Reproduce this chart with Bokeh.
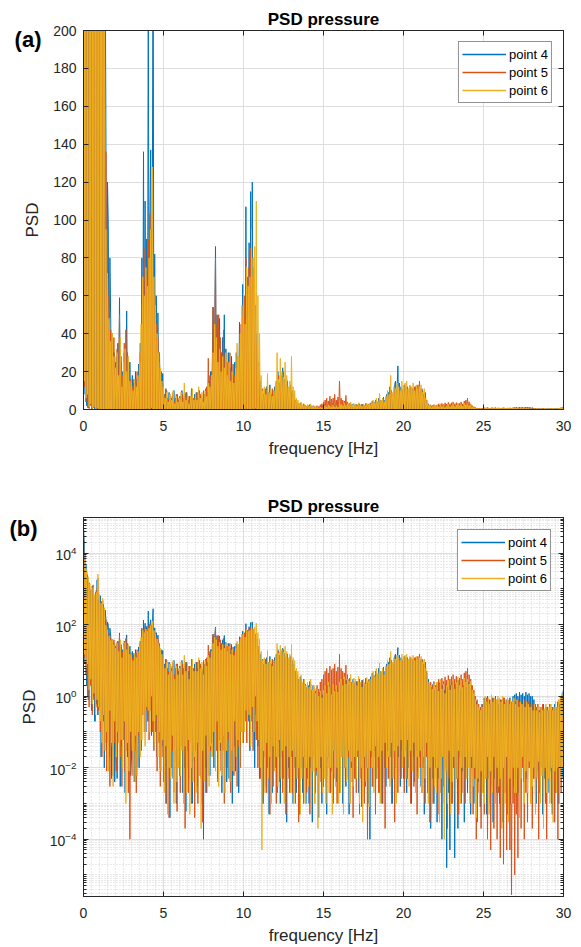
from bokeh.plotting import figure
from bokeh.layouts import column
from bokeh.models import (ColumnDataSource, Legend, LegendItem, LinearAxis, LogAxis,
                          FixedTicker, Range1d, BasicTickFormatter)
from bokeh.embed import file_html
from bokeh.resources import INLINE

# ---------------- data: PSD per 1-Hz block, 20 samples per Hz (0.05 Hz step) ----------------
series_names = ["point 4", "point 5", "point 6"]
series_colors = ["#0072BD", "#D95319", "#EDB120"]
x_ticks = [0, 5, 10, 15, 20, 25, 30]
y_ticks_lin = [0, 20, 40, 60, 80, 100, 120, 140, 160, 180, 200]
y_ticks_log = [1e-4, 1e-2, 1e0, 1e2, 1e4]

point4_rows = [
    [50000, 20000, 8, 5000, 2, 2500, 0.8, 1500, 3, 900, 0.4, 1200, 1, 600, 0.2, 800, 0.6, 1800, 0.3, 500],
    [0.5, 650, 0.02, 450, 0.3, 380, 0.01, 260, 150, 0.05, 120, 97, 0.02, 80, 48, 0.005, 40, 0.03, 30, 0.004],
    [0.05, 28, 0.005, 35, 0.1, 59, 0.003, 25, 0.04, 20, 0.2, 30, 0.002, 22, 52, 0.02, 18, 0.08, 25, 0.006],
    [0.02, 18, 0.1, 14, 0.004, 20, 0.05, 16, 0.01, 24, 0.1, 35, 0.03, 80, 0.3, 136, 0.5, 110, 0.1, 90],
    [0.8, 240, 0.2, 100, 137, 0.08, 90, 280, 0.5, 82, 0.1, 60, 0.02, 51, 0.1, 30, 0.01, 20, 0.04, 19],
    [0.004, 8, 0.03, 11, 0.001, 6, 0.06, 9, 0.0004, 5, 0.01, 7, 0.005, 10, 0.04, 6, 0.001, 8, 0.02, 5],
    [0.006, 7, 0.04, 10, 0.002, 6, 0.01, 8, 0.0006, 9, 0.03, 5, 0.005, 7, 0.08, 11, 0.001, 6, 0.015, 8],
    [0.03, 9, 0.003, 6, 0.05, 10, 0.006, 7, 0.001, 5, 0.0001, 8, 0.01, 11, 0.002, 9, 0.04, 15, 0.006, 20],
    [0.05, 25, 54, 0.01, 40, 86, 0.08, 50, 0.005, 35, 48, 0.03, 30, 0.002, 38, 0.1, 50, 0.01, 32, 0.004],
    [0.06, 30, 0.005, 22, 0.03, 28, 0.001, 18, 0.04, 25, 0.008, 30, 0.07, 20, 0.002, 46, 0.03, 35, 0.2, 66],
    [0.05, 50, 0.4, 107, 0.08, 70, 0.2, 88, 0.03, 115, 0.5, 120, 0.1, 75, 0.01, 55, 0.3, 40, 0.04, 20],
    [0.005, 15, 0.02, 10, 0.001, 8, 0.05, 11, 0.003, 12, 0.01, 9, 0.0005, 13, 0.03, 8, 0.002, 10, 0.06, 12],
    [0.01, 15, 0.002, 20, 0.05, 14, 0.001, 18, 0.02, 22, 0.005, 16, 0.04, 12, 0.0003, 15, 0.01, 10, 0.002, 13],
    [0.02, 10, 0.001, 8, 0.01, 5, 0.002, 4, 0.03, 3, 0.0005, 3.5, 0.01, 2, 0.002, 3, 0.02, 2.2, 0.001, 1.8],
    [0.005, 2, 0.001, 2.6, 0.01, 1.5, 0.0003, 2, 0.02, 1.2, 0.002, 1.6, 0.006, 1, 0.0004, 1.3, 0.01, 0.9, 0.001, 1.1],
    [0.003, 1.6, 0.01, 1.2, 0.0005, 2, 0.02, 1.4, 0.002, 1.8, 0.008, 1, 0.001, 2.2, 0.03, 1.5, 0.004, 1.9, 0.01, 1.2],
    [0.002, 2.4, 0.02, 2, 0.001, 3, 0.01, 2.2, 0.003, 2.8, 0.03, 2, 0.0005, 3.2, 0.01, 2.5, 0.004, 3, 0.02, 2.4],
    [0.005, 2.6, 0.03, 2, 0.002, 3, 0.01, 2.2, 0.0008, 2.8, 0.02, 2, 0.003, 3.2, 0.01, 2.4, 0.001, 3, 0.0001, 3.5],
    [0.02, 4.5, 0.003, 3.8, 0.03, 5, 0.005, 4, 0.01, 6, 0.002, 5, 0.04, 4.5, 0.001, 6.5, 0.01, 5, 0.003, 8],
    [0.03, 9, 0.005, 12, 0.02, 10, 0.001, 8, 0.04, 13, 15, 0.01, 11, 23, 0.02, 14, 0.003, 12, 0.03, 10],
    [0.005, 13, 0.03, 11, 0.002, 12, 0.01, 10, 0.05, 12, 0.001, 11, 0.02, 9, 0.004, 12, 0.03, 10, 0.008, 11],
    [0.02, 10, 0.003, 11, 0.01, 8, 0.0005, 9, 0.03, 5, 0.002, 3, 0.01, 2, 0.0002, 1.8, 0.005, 2.2, 0.001, 1.5],
    [0.01, 2, 0.0003, 1.6, 0.005, 2.4, 0.02, 1.3, 0.0001, 2, 0.003, 1.5, 0.01, 2.2, 0.000016, 1.8, 0.002, 1.2, 0.00005, 2],
    [0.001, 2.5, 0.01, 1.6, 0.00003, 2.2, 0.005, 1.8, 0.0002, 2.8, 0.02, 1.5, 0.001, 2.4, 0.008, 2, 0.0003, 2.6, 0.01, 1.8],
    [0.002, 2.5, 0.02, 1.8, 0.0005, 2, 0.01, 1.2, 0.001, 1, 0.005, 0.7, 0.0003, 0.5, 0.004, 0.4, 0.0008, 0.5, 0.006, 0.6],
    [0.002, 0.9, 0.01, 0.7, 0.0005, 1, 0.005, 0.8, 0.001, 0.6, 0.02, 0.9, 0.0003, 0.7, 0.005, 1, 0.002, 0.8, 0.01, 0.6],
    [0.001, 0.8, 0.006, 0.6, 0.0003, 0.9, 0.01, 0.7, 0.002, 0.8, 0.0005, 0.6, 0.008, 0.9, 0.001, 0.7, 0.01, 1, 0.003, 1.1],
    [0.005, 1.2, 0.02, 1, 0.002, 1.3, 0.01, 1.1, 0.03, 1.2, 0.004, 1, 0.02, 1.3, 0.005, 1.1, 0.03, 1.2, 0.01, 1],
    [0.02, 1, 0.005, 0.8, 0.01, 0.6, 0.001, 0.5, 0.008, 0.4, 0.002, 0.5, 0.01, 0.4, 0.0005, 0.6, 0.005, 0.4, 0.001, 0.5],
    [0.01, 0.4, 0.002, 0.6, 0.008, 0.4, 0.0005, 0.5, 0.01, 0.6, 0.002, 0.5, 0.015, 0.7, 0.001, 0.6, 0.01, 0.9, 0.005, 1.2],
]
point4_end = 1.5

point5_rows = [
    [70000, 12, 10000, 4, 3000, 1, 1800, 0.5, 1000, 2, 700, 0.3, 1300, 0.8, 600, 0.2, 900, 0.5, 2000, 0.4],
    [500, 0.1, 420, 0.02, 480, 0.2, 280, 0.05, 136, 0.008, 90, 0.1, 60, 0.003, 42, 0.04, 35, 0.006, 38, 0.05],
    [25, 0.008, 32, 0.05, 20, 50, 0.02, 28, 0.003, 18, 0.06, 35, 0.008, 42, 0.03, 30, 0.002, 22, 0.0001, 16],
    [0.05, 12, 0.006, 16, 0.03, 13, 0.002, 20, 0.08, 15, 0.01, 30, 0.05, 55, 0.3, 75, 0.1, 85, 0.4, 70],
    [0.2, 90, 0.06, 103, 0.4, 95, 0.1, 75, 0.03, 60, 0.2, 45, 0.008, 38, 0.05, 25, 0.003, 18, 0.02, 12],
    [9, 0.01, 7, 0.001, 10, 0.04, 5, 0.0004, 8, 0.006, 6, 0.03, 9, 0.002, 4, 0.05, 8, 0.0006, 6, 0.01],
    [7, 0.002, 5, 0.04, 8, 0.006, 6, 0.0002, 9, 0.01, 4, 0.002, 7, 0.05, 5, 0.001, 8, 0.03, 6, 0.0004],
    [6, 0.03, 9, 0.001, 5, 0.04, 8, 0.005, 6, 0.0003, 10, 0.01, 7, 0.002, 12, 0.08, 27, 0.006, 18, 0.03],
    [20, 0.02, 54, 0.1, 35, 80, 0.03, 45, 0.004, 50, 0.06, 38, 0.008, 30, 0.03, 42, 0.001, 28, 0.05, 25],
    [0.01, 25, 0.06, 30, 0.002, 20, 0.03, 24, 0.006, 18, 0.08, 22, 0.003, 28, 0.04, 35, 0.01, 45, 0.1, 50],
    [0.1, 60, 0.2, 80, 0.05, 65, 0.4, 75, 0.1, 85, 0.2, 70, 0.03, 60, 0.5, 50, 0.06, 35, 0.01, 25],
    [12, 0.005, 9, 0.04, 11, 0.001, 8, 0.02, 10, 0.002, 12, 0.05, 7, 0.0005, 9, 0.01, 11, 0.003, 8, 0.04],
    [11, 0.001, 14, 0.02, 18, 0.004, 12, 0.06, 15, 0.002, 20, 0.01, 13, 0.0005, 16, 0.04, 10, 0.005, 12, 0.02],
    [9, 0.002, 7, 0.04, 5, 0.001, 4, 0.01, 3, 0.0003, 2.5, 0.005, 3, 0.02, 2, 0.001, 2.4, 0.01, 1.8, 0.002],
    [2, 0.01, 1.5, 0.0005, 2.2, 0.005, 1.2, 0.02, 1.8, 0.001, 1.4, 0.008, 2, 0.002, 1.6, 0.03, 2.5, 0.004, 3, 0.01],
    [4, 0.03, 5, 0.003, 6, 0.06, 4.5, 0.01, 7, 0.002, 5.5, 0.05, 6, 0.005, 8, 0.04, 5, 0.001, 6.5, 0.02],
    [15, 0.02, 6, 0.08, 5, 0.002, 4.5, 0.04, 7.4, 0.005, 4, 0.02, 3, 0.001, 2.5, 0.01, 2, 0.0004, 2.4, 0.005],
    [2, 0.002, 2.6, 0.02, 1.8, 0.0005, 2.2, 0.005, 2.8, 0.01, 1.6, 0.001, 2.4, 0.03, 2, 0.0001, 2.8, 0.005, 2.2, 0.01],
    [3, 0.003, 4, 0.02, 3.5, 0.0005, 4.5, 0.01, 3, 0.002, 5, 0.03, 4, 0.001, 5.5, 0.008, 3.8, 0.0002, 6, 0.02],
    [8, 0.005, 7, 0.04, 10, 0.001, 8, 0.02, 9, 0.0003, 11, 0.01, 10, 0.002, 12, 0.05, 9, 0.005, 11, 0.02],
    [10, 0.002, 12, 0.04, 11, 0.005, 10, 0.02, 12, 0.001, 9, 0.05, 11, 0.003, 12, 0.02, 10, 0.0005, 13, 0.01],
    [15, 0.01, 11, 0.002, 10, 0.04, 8, 0.001, 5, 0.02, 3, 0.005, 2.2, 0.0003, 2.5, 0.01, 2, 0.001, 2.6, 0.02],
    [2, 0.005, 2.4, 0.0005, 3, 0.01, 2.2, 0.002, 3.2, 0.03, 2.6, 0.001, 3.5, 0.01, 2.8, 0.0002, 3.8, 0.005, 3, 0.02],
    [3.5, 0.001, 4, 0.01, 3, 0.003, 3.6, 0.03, 2.8, 0.0005, 3.2, 0.01, 4, 0.002, 3, 0.02, 4.5, 0.001, 5, 0.01],
    [6, 0.02, 4, 0.002, 3, 0.01, 2, 0.0005, 1.5, 0.005, 1, 0.0001, 0.8, 0.002, 0.6, 0.01, 0.5, 0.0002, 0.6, 0.005],
    [0.8, 0.0005, 0.6, 0.005, 0.9, 0.0001, 0.7, 0.01, 0.8, 0.00005, 0.6, 0.003, 0.9, 0.0002, 0.7, 0.01, 0.6, 0.0001, 0.8, 0.002],
    [0.7, 0.00003, 0.8, 0.005, 0.6, 0.00002, 0.9, 0.002, 0.7, 0.00005, 0.6, 0.01, 0.8, 0.00005, 0.7, 0.0000028, 0.6, 0.001, 0.8, 0.00001],
    [0.7, 0.0005, 0.6, 0.00003, 0.8, 0.005, 0.7, 0.0002, 0.6, 0.01, 0.7, 0.0001, 0.8, 0.002, 0.6, 0.0003, 0.7, 0.01, 0.6, 0.001],
    [0.5, 0.0002, 0.6, 0.005, 0.4, 0.001, 0.5, 0.01, 0.6, 0.0001, 0.4, 0.003, 0.5, 0.02, 0.6, 0.0005, 0.4, 0.008, 0.5, 0.0001],
    [0.5, 0.005, 0.4, 0.02, 0.6, 0.001, 0.5, 0.01, 0.4, 0.0003, 0.6, 0.005, 0.5, 0.0001, 0.7, 0.01, 0.8, 0.002, 1, 0.02],
]
point5_end = 1.2

point6_rows = [
    [80000, 15, 9000, 6, 3500, 8, 2200, 1.5, 1400, 3, 900, 0.6, 1100, 1.2, 700, 0.3, 800, 0.8, 2600, 0.5],
    [700, 0.2, 400, 0.05, 550, 0.3, 300, 0.03, 95, 0.1, 72, 0.008, 48, 0.4, 36, 0.05, 40, 0.003, 28, 0.2],
    [22, 0.02, 30, 0.1, 18, 0.003, 38, 0.06, 12, 0.01, 25, 0.2, 32, 0.001, 20, 0.05, 28, 0.008, 15, 0.1],
    [14, 0.03, 10, 0.004, 16, 0.08, 12, 0.006, 18, 0.1, 25, 0.02, 45, 0.06, 70, 0.3, 60, 0.04, 75, 0.5],
    [65, 0.4, 80, 0.1, 95, 1, 128, 0.2, 70, 0.05, 55, 0.3, 40, 0.02, 30, 0.1, 22, 0.008, 15, 0.06],
    [12, 0.002, 6, 0.04, 9, 0.0005, 4, 0.01, 8, 0.005, 5, 0.08, 10, 0.001, 3, 0.03, 7, 0.004, 4, 0.01],
    [6, 0.006, 9, 0.03, 4, 0.001, 14, 0.04, 5, 0.002, 8, 0.06, 3, 0.0005, 7, 0.01, 11, 0.004, 5, 0.02],
    [8, 0.002, 5, 0.05, 12, 0.006, 6, 0.0002, 9, 0.03, 4, 0.004, 10, 0.08, 7, 0.01, 14, 0.003, 12, 0.04],
    [18, 0.02, 30, 0.1, 45, 0.008, 38, 0.2, 25, 0.003, 32, 0.05, 20, 0.006, 28, 0.08, 22, 0.002, 30, 0.03],
    [18, 0.1, 25, 0.004, 15, 0.03, 20, 0.008, 14, 0.2, 22, 0.02, 35, 0.06, 28, 0.003, 40, 0.1, 55, 0.05],
    [60, 0.1, 45, 0.4, 75, 0.05, 65, 0.3, 70, 0.04, 95, 0.5, 80, 0.1, 86, 1, 110, 0.2, 60, 0.06],
    [40, 0.01, 18, 0.00005, 10, 0.03, 12, 0.002, 8, 0.05, 19, 0.005, 9, 0.02, 11, 0.001, 7, 0.04, 10, 0.008],
    [14, 0.02, 30, 0.003, 16, 0.06, 27, 0.005, 20, 0.03, 17, 0.001, 25, 0.04, 18, 0.008, 12, 0.02, 15, 0.002],
    [28, 0.03, 12, 0.001, 10, 0.02, 6, 0.005, 5, 0.01, 3, 0.0005, 4, 0.005, 2.5, 0.02, 3, 0.001, 2, 0.01],
    [2.5, 0.003, 1.8, 0.02, 3, 0.0005, 1.5, 0.008, 2, 0.001, 1.2, 0.01, 1.6, 0.0002, 1, 0.005, 1.4, 0.02, 0.9, 0.002],
    [1.5, 0.005, 2, 0.001, 1.2, 0.02, 2.5, 0.002, 1.8, 0.01, 1.1, 0.0005, 2.2, 0.03, 1.4, 0.003, 2, 0.01, 1.3, 0.001],
    [2.5, 0.002, 3, 0.02, 2, 0.0005, 3.5, 0.01, 2.2, 0.004, 3, 0.03, 2.6, 0.001, 4, 0.015, 2.4, 0.003, 3.2, 0.02],
    [3, 0.005, 2, 0.03, 3.6, 0.001, 2.5, 0.01, 1.8, 0.0003, 3, 0.02, 2.2, 0.004, 3.4, 0.01, 2.6, 0.0008, 3, 0.03],
    [4, 0.01, 5, 0.002, 3.5, 0.04, 6, 0.005, 4.5, 0.02, 8.4, 0.001, 5, 0.03, 6, 0.005, 4, 0.05, 7, 0.01],
    [10, 0.02, 8, 0.003, 18, 0.05, 9, 0.005, 12, 0.03, 11, 0.001, 14, 0.04, 12, 0.008, 10, 0.06, 15, 0.01],
    [12, 0.02, 14, 0.005, 15, 0.06, 11, 0.003, 13, 0.03, 12, 0.008, 14, 0.05, 10, 0.002, 13, 0.02, 11, 0.005],
    [12, 0.03, 13, 0.002, 9, 0.02, 11, 0.005, 6, 0.05, 4, 0.001, 2.5, 0.01, 2, 0.0004, 1.6, 0.02, 2.2, 0.003],
    [1.8, 0.002, 2.5, 0.01, 1.4, 0.0003, 3, 0.005, 1.6, 0.02, 2.2, 0.0001, 1.2, 0.008, 2, 0.001, 2.8, 0.03, 1.5, 0.0005],
    [2, 0.004, 3, 0.02, 1.6, 0.0002, 2.4, 0.005, 3.5, 0.03, 2, 0.001, 2.8, 0.01, 1.8, 0.002, 3.2, 0.02, 2.5, 0.005],
    [3, 0.01, 2.2, 0.001, 2.6, 0.02, 1.5, 0.003, 1.2, 0.01, 0.8, 0.0004, 0.6, 0.005, 0.5, 0.001, 0.4, 0.008, 0.5, 0.002],
    [0.8, 0.001, 1, 0.005, 0.7, 0.02, 0.9, 0.0005, 0.6, 0.008, 1.1, 0.002, 0.7, 0.02, 0.9, 0.001, 0.8, 0.01, 1, 0.003],
    [0.9, 0.005, 0.7, 0.0002, 1, 0.01, 0.6, 0.001, 0.8, 0.02, 0.9, 0.0003, 0.6, 0.005, 0.8, 0.001, 0.7, 0.01, 0.9, 0.002],
    [0.6, 0.002, 0.8, 0.01, 0.5, 0.0004, 0.7, 0.005, 0.6, 0.02, 0.8, 0.001, 0.5, 0.008, 0.7, 0.002, 0.6, 0.015, 0.5, 0.001],
    [0.5, 0.003, 0.4, 0.01, 0.6, 0.0005, 0.4, 0.005, 0.5, 0.015, 0.35, 0.001, 0.5, 0.006, 0.4, 0.0002, 0.45, 0.01, 0.6, 0.002],
    [0.4, 0.005, 0.5, 0.001, 0.6, 0.01, 0.4, 0.0003, 0.5, 0.008, 0.7, 0.002, 0.5, 0.01, 0.8, 0.001, 1, 0.005, 1.2, 0.01],
]
point6_end = 1.8


def build(rows, end):
    f, v = [], []
    for hz, row in enumerate(rows):
        n = len(row)
        for j, val in enumerate(row):
            f.append(hz + j / n)
            v.append(val)
    f.append(float(len(rows)))
    v.append(end)
    return dict(freq=f, psd=v)


series_data = [build(point4_rows, point4_end),
               build(point5_rows, point5_end),
               build(point6_rows, point6_end)]

FONT = "Liberation Sans"
AX = "#262626"


def style_axis(ax, labels=True, minor_in=0):
    ax.axis_line_color = AX
    ax.major_tick_line_color = AX
    ax.minor_tick_line_color = AX
    ax.major_tick_in = 5
    ax.major_tick_out = 0
    ax.minor_tick_in = minor_in
    ax.minor_tick_out = 0
    ax.major_label_text_font = FONT
    ax.axis_label_text_font = FONT
    ax.axis_label_text_color = AX
    ax.axis_label_text_font_style = "normal"
    ax.axis_label_text_font_size = "17px"
    if labels:
        ax.major_label_text_font_size = "14px"
        ax.major_label_text_color = AX
    else:
        ax.major_label_text_font_size = "1px"
        ax.major_label_text_color = None
        ax.major_label_standoff = 0


def make_fig(log, height, top, bottom, tag, tag_tick, legend_margin):
    kw = dict(width=581, height=height, x_range=Range1d(0, 30),
              output_backend="svg", toolbar_location=None,
              min_border_left=83, min_border_right=18,
              min_border_top=top, min_border_bottom=bottom)
    if log:
        kw.update(y_axis_type="log", y_range=Range1d(2.5e-6, 1.0e5))
        xt = FixedTicker(ticks=x_ticks, minor_ticks=[i * 0.5 for i in range(61)])
        minors = []
        for e in range(-6, 5):
            for m in range(1, 10):
                val = m * 10.0 ** e
                if val not in y_ticks_log:
                    minors.append(val)
        yt = FixedTicker(ticks=y_ticks_log, minor_ticks=minors)
    else:
        kw.update(y_range=Range1d(0, 200))
        xt = FixedTicker(ticks=x_ticks)
        yt = FixedTicker(ticks=y_ticks_lin)
    p = figure(**kw)
    p.background_fill_color = "white"
    p.border_fill_color = "white"
    p.outline_line_color = AX
    p.outline_line_width = 1

    p.xaxis.ticker = xt
    p.yaxis.ticker = yt
    p.xgrid.ticker = xt
    p.ygrid.ticker = yt
    style_axis(p.xaxis[0])
    style_axis(p.yaxis[0], minor_in=3 if log else 0)
    p.xaxis.major_label_standoff = 11
    p.xaxis.axis_label_standoff = 5
    p.yaxis.major_label_standoff = 7
    p.yaxis.axis_label_standoff = 8
    p.xaxis.axis_label = "frequency [Hz]"
    p.yaxis.axis_label = "PSD"

    top_ax = LinearAxis(ticker=xt, formatter=BasicTickFormatter())
    style_axis(top_ax, labels=False)
    p.add_layout(top_ax, "above")
    right_ax = (LogAxis if log else LinearAxis)(ticker=yt, formatter=BasicTickFormatter())
    style_axis(right_ax, labels=False, minor_in=3 if log else 0)
    p.add_layout(right_ax, "right")

    # panel tag "(a)"/"(b)": a label-only axis stacked left of the y axis
    tag_ax = LinearAxis(ticker=FixedTicker(ticks=[tag_tick]),
                        major_label_overrides={tag_tick: tag})
    tag_ax.axis_line_color = None
    tag_ax.major_tick_line_color = None
    tag_ax.minor_tick_line_color = None
    tag_ax.major_tick_out = 0
    tag_ax.major_tick_in = 0
    tag_ax.major_label_text_font = FONT
    tag_ax.major_label_text_font_size = "22px"
    tag_ax.major_label_text_font_style = "bold"
    tag_ax.major_label_text_color = "black"
    tag_ax.major_label_standoff = -21
    p.add_layout(tag_ax, "left")

    p.xgrid.grid_line_color = "#dedede"
    p.ygrid.grid_line_color = "#dedede"
    if log:
        p.xgrid.minor_grid_line_color = "#d2d2d2"
        p.ygrid.minor_grid_line_color = "#d2d2d2"
        p.xgrid.minor_grid_line_dash = "1 2"
        p.ygrid.minor_grid_line_dash = "1 2"

    p.title.text = "PSD pressure"
    p.title.align = "center"
    p.title.text_font = FONT
    p.title.text_font_size = "17px"
    p.title.text_font_style = "bold"
    p.title.text_color = "black"
    p.title.standoff = 3

    items = []
    for data, name, col in zip(series_data, series_names, series_colors):
        p.line("freq", "psd", source=ColumnDataSource(data), line_color=col, line_width=1)
        # legend swatch: same series, first sample only (draws nothing in the frame)
        swatch_src = ColumnDataSource(dict(freq=data["freq"][:1], psd=data["psd"][:1]))
        swatch = p.line("freq", "psd", source=swatch_src, line_color=col, line_width=1.5)
        items.append(LegendItem(label=name, renderers=[swatch]))
    leg = Legend(items=items, location="top_right", margin=legend_margin, padding=3,
                 spacing=0, label_height=18, glyph_height=18, glyph_width=44,
                 label_standoff=3, label_text_font=FONT, label_text_font_size="13px",
                 label_text_color="black", border_line_color=AX, border_line_width=1,
                 background_fill_color="white", background_fill_alpha=1)
    p.add_layout(leg, "center")
    return p


p1 = make_fig(False, 470, 30, 61, "(a)", 195, 11)
p2 = make_fig(True, 477, 47, 50, "(b)", 50000, 12)

layout = column(p1, p2, spacing=0)
open("out.html", "w").write(file_html(layout, INLINE))
